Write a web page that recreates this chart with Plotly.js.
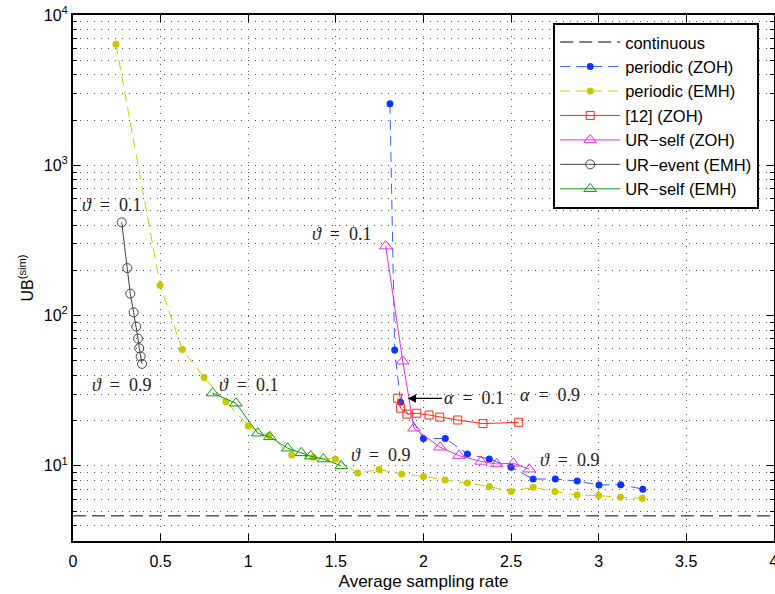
<!DOCTYPE html>
<html>
<head>
<meta charset="utf-8">
<script src="https://cdn.plot.ly/plotly-3.0.1.min.js"></script>
<style>html,body{margin:0;padding:0;background:#fff;}#chart{width:775px;height:594px;}</style>
</head>
<body>
<div id="chart"></div>
<script>
// ---- data ----
const contX = [0, 4];
const contY = [4.65, 4.65];

const perZohX = [1.809, 1.836, 1.870, 2.000, 2.125, 2.251, 2.376, 2.500, 2.626, 2.753, 2.878, 3.002, 3.126, 3.252];
const perZohY = [2566, 58.9, 26.5, 15.2, 15.2, 12.0, 11.1, 9.8, 8.17, 8.17, 7.92, 7.46, 7.5, 7.0];

const perEmhX = [0.245, 0.497, 0.624, 0.748, 0.873, 1.000, 1.119, 1.248, 1.372, 1.497, 1.625, 1.747, 1.876, 2.000, 2.123, 2.251, 2.376, 2.500, 2.626, 2.751, 2.877, 3.000, 3.124, 3.249];
const perEmhY = [6400, 159, 59.4, 38.7, 26.7, 18.4, 15.9, 11.8, 11.4, 11.1, 8.95, 9.45, 8.83, 8.5, 8.05, 7.7, 7.28, 6.75, 7.2, 6.75, 6.4, 6.34, 6.18, 6.08];

const ref12X = [1.853, 1.870, 1.906, 1.962, 2.032, 2.093, 2.196, 2.340, 2.544];
const ref12Y = [28.2, 24.2, 22.1, 22.4, 21.8, 21.1, 20.2, 19.1, 19.5];

const urSelfZohX = [1.785, 1.882, 1.946, 2.095, 2.203, 2.329, 2.418, 2.513, 2.604];
const urSelfZohY = [290, 49.7, 17.8, 13.3, 11.7, 10.7, 10.3, 10.4, 9.5];

const urEventEmhX = [0.278, 0.310, 0.327, 0.346, 0.361, 0.371, 0.378, 0.386, 0.394];
const urEventEmhY = [417, 207, 140, 105, 84.5, 70.3, 60.6, 53.5, 47.7];

const urSelfEmhX = [0.797, 0.930, 1.054, 1.123, 1.225, 1.303, 1.357, 1.429, 1.531];
const urSelfEmhY = [30.5, 26.1, 16.5, 15.6, 13.1, 12.2, 11.6, 11.1, 10.0];

const seriesNames = ["continuous", "periodic (ZOH)", "periodic (EMH)", "[12] (ZOH)", "UR\u2212self (ZOH)", "UR\u2212event (EMH)", "UR\u2212self (EMH)"];

const yTickVals = [10, 100, 1000, 10000];
const yTickText = ["10<sup>1</sup>", "10<sup>2</sup>", "10<sup>3</sup>", "10<sup>4</sup>"];
const yMinorVals = [4, 5, 6, 7, 8, 9,
                    20, 30, 40, 50, 60, 70, 80, 90,
                    200, 300, 400, 500, 600, 700, 800, 900,
                    2000, 3000, 4000, 5000, 6000, 7000, 8000, 9000];
const xTickVals = [0, 0.5, 1, 1.5, 2, 2.5, 3, 3.5, 4];
const xTickText = ["0", "0.5", "1", "1.5", "2", "2.5", "3", "3.5", "4"];

// annotation labels
const SP = "\u2002";
const labelText = ["<i>\u03d1</i>" + SP + "=" + SP + "0.1", "<i>\u03d1</i>" + SP + "=" + SP + "0.9",
                   "<i>\u03d1</i>" + SP + "=" + SP + "0.1", "<i>\u03d1</i>" + SP + "=" + SP + "0.9",
                   "<i>\u03d1</i>" + SP + "=" + SP + "0.1", "<i>\u03b1</i>" + SP + "=" + SP + "0.9",
                   "<i>\u03d1</i>" + SP + "=" + SP + "0.9"];
const labelX = [0.223, 0.280, 1.002, 1.758, 1.535, 2.723, 2.834];
const labelY = [547, 34.4, 34.3, 11.8, 351, 29.4, 10.9];
const arrowLabel = "<i>\u03b1</i>" + SP + "=" + SP + "0.1";
const arrowX = 1.91, arrowY = 28.1;

// ---- styling ----
const font = "Liberation Sans, Arial, Helvetica, sans-serif";
const serif = "Liberation Serif, DejaVu Serif, serif";

const traces = [
  {x: contX, y: contY, name: seriesNames[0], mode: "lines",
   line: {color: "#555555", width: 1.5, dash: "13px,6px"}},
  {x: perZohX, y: perZohY, name: seriesNames[1], mode: "lines+markers",
   line: {color: "#3a5cff", width: 1, dash: "10px,6px"},
   marker: {color: "#0a35ff", size: 7, symbol: "circle"}},
  {x: perEmhX, y: perEmhY, name: seriesNames[2], mode: "lines+markers",
   line: {color: "#cccc00", width: 1, dash: "10px,6px"},
   marker: {color: "#c8c800", size: 7, symbol: "circle"}},
  {x: ref12X, y: ref12Y, name: seriesNames[3], mode: "lines+markers",
   line: {color: "#ff2a10", width: 1},
   marker: {color: "#ff2a10", size: 8, symbol: "square-open", line: {color: "#ff2a10", width: 1}}},
  {x: urSelfZohX, y: urSelfZohY, name: seriesNames[4], mode: "lines+markers",
   line: {color: "#dd33dd", width: 1},
   marker: {color: "#dd33dd", size: 11, symbol: "triangle-up-open", line: {color: "#dd33dd", width: 1}}},
  {x: urEventEmhX, y: urEventEmhY, name: seriesNames[5], mode: "lines+markers",
   line: {color: "#444444", width: 1},
   marker: {color: "#444444", size: 9, symbol: "circle-open", line: {color: "#444444", width: 1}}},
  {x: urSelfEmhX, y: urSelfEmhY, name: seriesNames[6], mode: "lines+markers",
   line: {color: "#119911", width: 1},
   marker: {color: "#119911", size: 11, symbol: "triangle-up-open", line: {color: "#119911", width: 1}}}
];

const annotations = labelText.map((t, i) => ({
  text: t, x: labelX[i], y: Math.log10(labelY[i]), xref: "x", yref: "y",
  showarrow: false, font: {family: serif, size: 18, color: "#222"}
}));
annotations.push({
  text: arrowLabel, x: arrowX, y: Math.log10(arrowY), xref: "x", yref: "y",
  showarrow: true, ax: 66, ay: 0, arrowhead: 2, arrowsize: 1.3, arrowwidth: 1.3, arrowcolor: "#000",
  font: {family: serif, size: 18, color: "#222"}
});

const gridDots = "1px,6px";
const layout = {
  width: 775, height: 594,
  margin: {l: 73, r: 1, t: 15, b: 53},
  paper_bgcolor: "#fff", plot_bgcolor: "#fff",
  font: {family: font, size: 16, color: "#000"},
  showlegend: true,
  legend: {x: 0.685, y: 0.985, xanchor: "left", yanchor: "top",
           bgcolor: "#fff", bordercolor: "#000", borderwidth: 2,
           font: {family: font, size: 16.5, color: "#000"}, itemwidth: 60, tracegroupgap: 0},
  xaxis: {range: [0, 4.001], tickvals: xTickVals, ticktext: xTickText,
          ticks: "inside", ticklen: 7, tickcolor: "#000", tickwidth: 1,
          showline: true, linecolor: "#000", linewidth: 2, mirror: "ticks",
          showgrid: true, gridcolor: "#555", gridwidth: 1, griddash: gridDots,
          zeroline: false, tickfont: {size: 16}, ticklabeloverflow: "allow", ticklabelstandoff: 5,
          title: {text: "Average sampling rate", font: {size: 17}, standoff: 6}},
  yaxis: {type: "log", range: [0.5, 4], tickvals: yTickVals, ticktext: yTickText,
          ticks: "inside", ticklen: 7, tickcolor: "#000", tickwidth: 1,
          showline: true, linecolor: "#000", linewidth: 2, mirror: "ticks",
          showgrid: true, gridcolor: "#555", gridwidth: 1, griddash: gridDots,
          minor: {tickmode: "array", tickvals: yMinorVals, ticks: "inside", ticklen: 4, tickcolor: "#000",
                  showgrid: true, gridcolor: "#555", gridwidth: 1, griddash: gridDots},
          zeroline: false, tickfont: {size: 16},
          title: {text: "UB<sup>(sim)</sup>", font: {size: 16}, standoff: 6}},
  annotations: annotations
};

Plotly.newPlot("chart", traces, layout, {staticPlot: true, displayModeBar: false});
</script>
</body>
</html>
